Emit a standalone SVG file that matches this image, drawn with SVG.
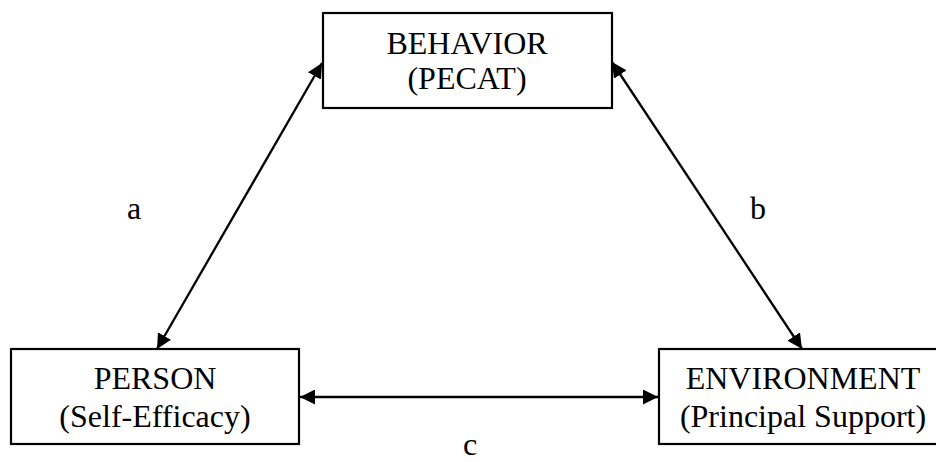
<svg xmlns="http://www.w3.org/2000/svg" width="936" height="462" viewBox="0 0 936 462">
<defs>
<style>
.box{fill:#fff;stroke:#000;stroke-width:2.2}
.t{font-family:"Liberation Serif","Times New Roman",serif;font-size:32px;fill:#000;text-anchor:middle}
.c{stroke:#000;stroke-width:2.3;fill:none;marker-start:url(#ah);marker-end:url(#ah)}
</style>
<marker id="ah" markerUnits="userSpaceOnUse" markerWidth="15" markerHeight="15" viewBox="0 0 15 15" refX="15" refY="7.5" orient="auto-start-reverse">
<path d="M0,0 L15,7.5 L0,15 z" fill="#000"/>
</marker>
</defs>
<rect width="936" height="462" fill="#fff"/>
<g id="connectors">
<line class="c" x1="322" y1="63" x2="157" y2="349"/>
<line class="c" x1="612" y1="62" x2="802" y2="349"/>
<line class="c" x1="300" y1="397" x2="658" y2="397"/>
</g>
<g id="behavior">
<rect class="box" x="323" y="13" width="289" height="95"/>
<text class="t" x="467" y="54">BEHAVIOR</text>
<text class="t" x="467" y="89">(PECAT)</text>
</g>
<g id="person">
<rect class="box" x="11" y="349" width="288" height="95"/>
<text class="t" x="155" y="389">PERSON</text>
<text class="t" x="155" y="427">(Self-Efficacy)</text>
</g>
<g id="environment">
<rect class="box" x="659" y="349" width="288" height="95"/>
<text class="t" x="803" y="389">ENVIRONMENT</text>
<text class="t" x="803" y="427">(Principal Support)</text>
</g>
<g id="labels">
<text class="t" x="134" y="219">a</text>
<text class="t" x="758" y="219">b</text>
<text class="t" x="470" y="455">c</text>
</g>
</svg>
